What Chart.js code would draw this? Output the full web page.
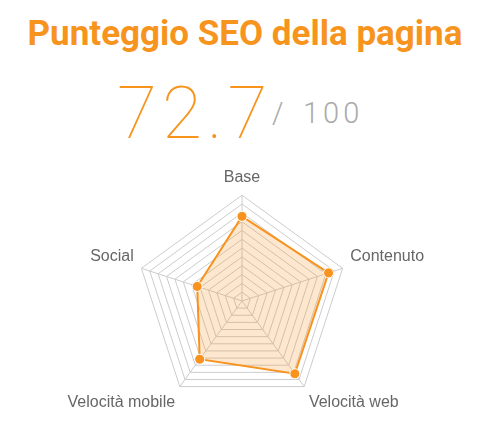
<!DOCTYPE html>
<html>
<head>
<meta charset="utf-8">
<script src="https://cdn.jsdelivr.net/npm/chart.js@4.4.1/dist/chart.umd.min.js"></script>
<style>
  html, body { margin: 0; padding: 0; background: #fff; width: 490px; height: 444px; overflow: hidden; }
  #title { position: absolute; left: 0; top: 12px; width: 490px; text-align: center;
    font-family: Roboto, sans-serif; font-weight: 700; font-size: 35px; line-height: 44px; color: #f7941d; }
  #big { position: absolute; left: 117px; top: 70px; white-space: nowrap; line-height: normal;
    font-family: Roboto, sans-serif; font-weight: 100; font-size: 73px; color: #f7941d; letter-spacing: 5px; }
  .small { position: absolute; top: 96px; white-space: nowrap; line-height: normal;
    font-family: Roboto, sans-serif; font-weight: 300; font-size: 29px; color: #aaa; letter-spacing: 4px; }
  #slash { left: 272px; }
  #hundred { left: 303px; }
  #wrap { position: absolute; left: 0; top: 155px; width: 490px; height: 266px; }
</style>
</head>
<body>
<div id="title">Punteggio SEO della pagina</div>
<span id="big">72.7</span><span class="small" id="slash">/</span><span class="small" id="hundred">100</span>
<div id="wrap"><canvas id="c"></canvas></div>
<script>
const categories = ["Base", "Contenuto", "Velocità web", "Velocità mobile", "Social"];
const scores = [80, 86, 85, 68, 44.5];
const scaleMin = 0;
const scaleMax = 100;
const ringCount = 13;

new Chart(document.getElementById('c'), {
  type: 'radar',
  data: {
    labels: categories,
    datasets: [{
      data: scores,
      borderColor: '#f7931e',
      backgroundColor: 'rgba(247,147,30,0.22)',
      borderWidth: 2,
      pointBackgroundColor: '#f7931e',
      pointBorderColor: '#fff',
      pointBorderWidth: 1,
      pointRadius: 5,
      fill: true
    }]
  },
  options: {
    responsive: true,
    maintainAspectRatio: false,
    animation: false,
    plugins: { legend: { display: false }, tooltip: { enabled: false } },
    layout: { padding: { right: 6 } },
    scales: {
      r: {
        min: scaleMin,
        max: scaleMax,
        ticks: { display: false, count: ringCount },
        grid: { color: '#cccccc', lineWidth: 1 },
        angleLines: { color: '#cccccc' },
        pointLabels: {
          color: '#666',
          padding: 8,
          font: { family: 'Liberation Sans, Arial, sans-serif', size: 16 }
        }
      }
    }
  }
});
</script>
</body>
</html>
